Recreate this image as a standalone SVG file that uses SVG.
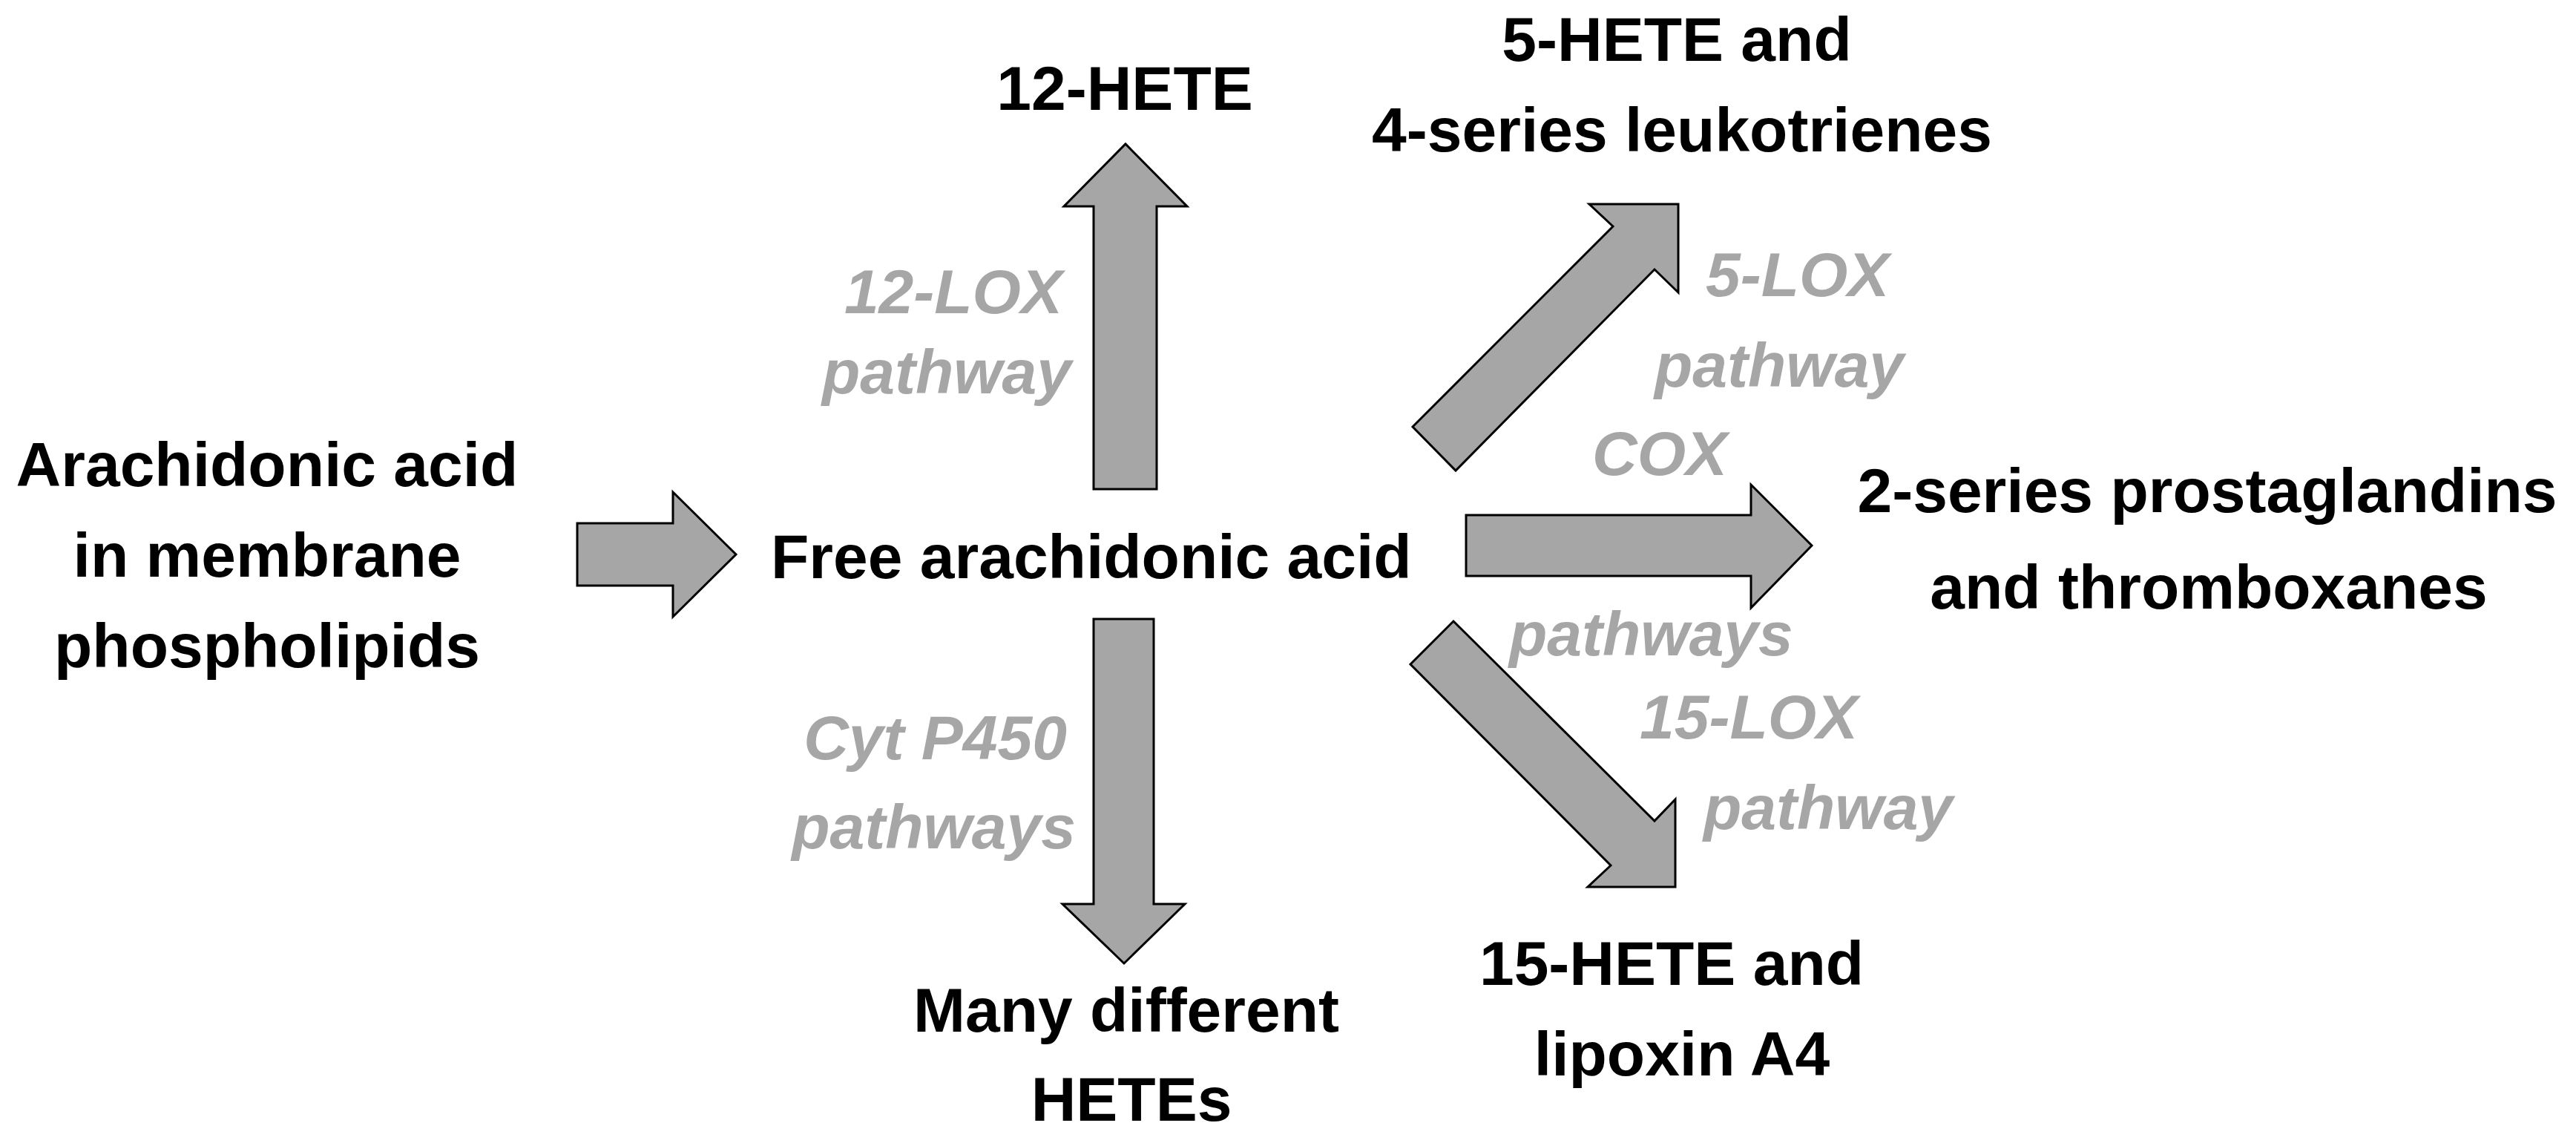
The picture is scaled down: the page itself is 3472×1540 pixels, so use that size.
<svg xmlns="http://www.w3.org/2000/svg" width="3472" height="1540" viewBox="0 0 3472 1540">
<style>
.t{font-family:"Liberation Sans",Arial,sans-serif;font-weight:bold;font-size:84px;fill:#000}
.c{text-anchor:middle}
.g{font-family:"Liberation Sans",Arial,sans-serif;font-weight:bold;font-style:italic;font-size:84px;fill:#a6a6a6}
.a{fill:#a6a6a6;stroke:#000;stroke-width:3;stroke-linejoin:miter}
</style>
<rect width="3472" height="1540" fill="#fff"/>
<g id="membrane"><text class="t c" x="360" y="655">Arachidonic acid</text><text class="t c" x="360" y="777">in membrane</text><text class="t c" x="360" y="899">phospholipids</text></g>
<g id="free"><text class="t" x="1039" y="779">Free arachidonic acid</text></g>
<g id="hete12"><text class="t c" x="1516" y="148">12-HETE</text></g>
<g id="hete5"><text class="t c" x="2260" y="82">5-HETE and</text><text class="t c" x="2267" y="204">4-series leukotrienes</text></g>
<g id="prost"><text class="t c" x="2975" y="690">2-series prostaglandins</text><text class="t c" x="2977" y="820">and thromboxanes</text></g>
<g id="hete15"><text class="t c" x="2253" y="1327">15-HETE and</text><text class="t c" x="2267" y="1449">lipoxin A4</text></g>
<g id="hetes"><text class="t c" x="1518" y="1390">Many different</text><text class="t c" x="1525" y="1510">HETEs</text></g>
<g id="connectors">
<polygon class="a" points="778,705 907,705 907,663 992,747 907,831 907,789 778,789"/>
<polygon class="a" points="1474,659 1474,278 1434,278 1517,194 1600,278 1559,278 1559,659"/>
<polygon class="a" points="1474,834 1555,834 1555,1218 1597,1218 1515,1298 1432,1218 1474,1218"/>
<polygon class="a" points="1976,694 2360,694 2360,653 2442,735 2360,819 2360,776 1976,776"/>
<polygon class="a" points="1904,575 2174,305 2142,275 2262,275 2262,394 2230,363 1962,634"/>
<polygon class="a" points="1959,837 2230,1106 2258,1077 2258,1195 2140,1195 2171,1166 1901,895"/>
</g>
<g id="labels">
<text class="g" x="1432" y="422" text-anchor="end">12-LOX</text>
<text class="g" x="1444" y="530" text-anchor="end">pathway</text>
<text class="g" x="1438" y="1023" text-anchor="end">Cyt P450</text>
<text class="g" x="1450" y="1143" text-anchor="end">pathways</text>
<text class="g" x="2299" y="399">5-LOX</text>
<text class="g" x="2230" y="521">pathway</text>
<text class="g" x="2146" y="640">COX</text>
<text class="g" x="2034" y="883">pathways</text>
<text class="g" x="2210" y="995">15-LOX</text>
<text class="g" x="2296" y="1117">pathway</text>
</g>
</svg>
